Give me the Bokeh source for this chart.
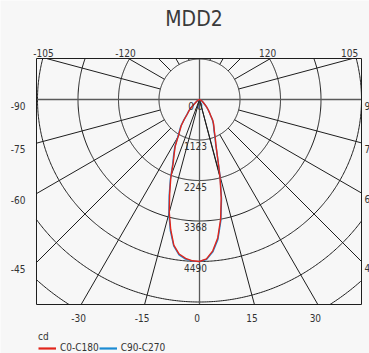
import math
from bokeh.plotting import figure
from bokeh.models import Label, Legend, LegendItem, Range1d
from bokeh.embed import file_html
from bokeh.resources import INLINE

# ---------------- data ----------------
title_text = "MDD2"
unit_label = "cd"
series_names = ["C0-C180", "C90-C270"]
gamma = [-90, -85, -80, -75, -70, -65, -60, -55, -50,
         -45, -42.5, -40, -37.5, -35, -32.5, -30, -27.5, -25, -22.5, -20, -17.5, -15, -12.5, -10,
         -7.5, -5, -2.5, 0, 2.5, 5, 7.5, 10, 12.5, 15, 17.5, 20, 22.5, 25, 27.5, 30, 32.5, 35,
         37.5, 40, 42.5, 45,
         50, 55, 60, 65, 70, 75, 80, 85, 90]
c0_c180 = [0, 4, 8, 15, 25, 40, 60, 100, 180,
           364, 440, 524, 690, 880, 1006, 1181, 1453, 1661, 1905, 2330, 2750, 3240, 3690, 4100,
           4320, 4420, 4475, 4490, 4420, 4210, 3870, 3370, 2780, 2180, 1650, 1330, 1140, 976,
           870, 780, 680, 540, 450, 380, 310, 250,
           150, 100, 60, 40, 25, 15, 8, 4, 0]
c90_c270 = [0, 4, 8, 15, 26, 42, 62, 105, 190,
            375, 455, 545, 710, 905, 1035, 1210, 1485, 1695, 1940, 2365, 2795, 3280, 3730, 4120,
            4345, 4440, 4485, 4490, 4440, 4240, 3910, 3410, 2820, 2210, 1650, 1310, 1110, 950,
            850, 760, 665, 530, 445, 375, 305, 245,
            150, 100, 60, 40, 25, 15, 8, 4, 0]
ring_values = [1122.5, 2245, 3367.5, 4490, 5612.5, 6735]
ring_label_values = [0, 1122.5, 2245, 3367.5, 4490]
ring_labels = ["0.0", "1123", "2245", "3368", "4490"]
spoke_angles = list(range(-165, 181, 15))
full_spokes = [-15, 15]
axis_spokes = [0, 90, 180, -90]
top_ticks = [-105, -120, 120, 105]
left_ticks = [-90, -75, -60, -45]
bottom_ticks = [-30, -15, 0, 15, 30]
right_ticks = [90, 75, 60, 45]

# ---------------- styling ----------------
FONT = "DejaVu Sans Condensed, Roboto"
RED = "#e1251b"
BLUE = "#1b8bd3"
GRID = "#1e1e1e"
AXIS = "#5a5a5a"
TXT = "#333333"
BG = "#f7f7f7"

W, H = 369, 353
CX, CY = 199, 99          # centre of the polar diagram (px)
c = 4490 / 162.0          # cd per pixel
X0, X1 = -163 * c, 162 * c   # chart box
Y0, Y1 = -205 * c, 41 * c

p = figure(width=W, height=H, min_border=0,
           x_range=Range1d(-CX * c, (W - CX) * c), y_range=Range1d(-(H - CY) * c, CY * c),
           x_axis_location=None, y_axis_location=None,
           toolbar_location=None, output_backend="svg")
p.grid.grid_line_color = None
p.outline_line_color = None
p.background_fill_color = BG
p.border_fill_color = BG
p.title.visible = False


def pol(r, a):
    t = math.radians(a)
    return r * math.sin(t), -r * math.cos(t)


def inside(pt):
    return X0 <= pt[0] <= X1 and Y0 <= pt[1] <= Y1


def exit_point(pin, pout):
    (x0, y0), (x1, y1) = pin, pout
    dx, dy = x1 - x0, y1 - y0
    t = 1.0
    if dx > 0:
        t = min(t, (X1 - x0) / dx)
    if dx < 0:
        t = min(t, (X0 - x0) / dx)
    if dy > 0:
        t = min(t, (Y1 - y0) / dy)
    if dy < 0:
        t = min(t, (Y0 - y0) / dy)
    return (x0 + t * dx, y0 + t * dy)


def clip_runs(pts):
    runs, cur = [], []
    for i, pt in enumerate(pts):
        if inside(pt):
            if not cur and i > 0:
                cur.append(exit_point(pt, pts[i - 1]))
            cur.append(pt)
        else:
            if cur:
                cur.append(exit_point(pts[i - 1], pt))
                runs.append(cur)
                cur = []
    if cur:
        runs.append(cur)
    return runs


# rings, clipped to the chart box
rxs, rys = [], []
for r in ring_values:
    pts = [pol(r, k * 0.5) for k in range(0, 721)]
    for run in clip_runs(pts):
        rxs.append([q[0] for q in run])
        rys.append([q[1] for q in run])
p.multi_line(rxs, rys, line_color=GRID, line_width=1)


def hit(a):
    sx, sy = math.sin(math.radians(a)), -math.cos(math.radians(a))
    ts = []
    if sx > 1e-9:
        ts.append(X1 / sx)
    if sx < -1e-9:
        ts.append(X0 / sx)
    if sy > 1e-9:
        ts.append(Y1 / sy)
    if sy < -1e-9:
        ts.append(Y0 / sy)
    t = min(ts)
    return t * sx, t * sy


# spokes
xs, ys = [], []
for a in spoke_angles:
    if a in axis_spokes:
        continue
    r0 = 0 if a in full_spokes else ring_values[0]
    x0, y0 = pol(r0, a)
    x1, y1 = hit(a)
    xs.append([x0, x1])
    ys.append([y0, y1])
p.multi_line(xs, ys, line_color=GRID, line_width=1)

# main axes through the centre
p.multi_line([[0, 0], [X0, X1]], [[Y0, Y1], [0, 0]], line_color=AXIS, line_width=1.3)

# beam half-angle lines (C0-C180)
half = max(c0_c180) / 2.0
imax = c0_c180.index(max(c0_c180))


def half_angle(indices):
    for i0, i1 in zip(indices[:-1], indices[1:]):
        v0, v1 = c0_c180[i0], c0_c180[i1]
        if v0 >= half >= v1:
            f = (v0 - half) / (v0 - v1)
            return gamma[i0] + f * (gamma[i1] - gamma[i0])
    return 0


a_left = half_angle(list(range(imax, -1, -1)))
a_right = half_angle(list(range(imax, len(gamma))))
bx, by = [], []
for a in (a_left, a_right):
    x1, y1 = pol(half, a)
    bx.append([0, x1])
    by.append([0, y1])
p.multi_line(bx, by, line_color=GRID, line_width=1)

# curves
xb = [pol(v, g)[0] for v, g in zip(c90_c270, gamma)]
yb = [pol(v, g)[1] for v, g in zip(c90_c270, gamma)]
xr = [pol(v, g)[0] for v, g in zip(c0_c180, gamma)]
yr = [pol(v, g)[1] for v, g in zip(c0_c180, gamma)]
p.line(xb, yb, line_color=BLUE, line_width=1.4)
p.line(xr, yr, line_color=RED, line_width=1.4)

# chart box
p.quad(left=[X0], right=[X1], bottom=[Y0], top=[Y1], fill_color=None,
       line_color=GRID, line_width=1)

# legend proxies (kept far outside the visible area)
BIG = 30000
lr = p.line(x=[-BIG, -BIG + 1], y=[-BIG, -BIG], line_color=RED, line_width=2.2)
lb = p.line(x=[-BIG, -BIG + 1], y=[-BIG, -BIG], line_color=BLUE, line_width=2.2)


def add_label(x, y, text, align="center", size="10px"):
    p.add_layout(Label(x=x, y=y, text=text, text_font=FONT, text_font_size=size,
                       text_color=TXT, text_align=align, text_baseline="middle"))


for a in top_ticks:
    hx, hy = hit(a)
    add_label(hx - 3 * c, Y1 + 6 * c, str(a))
for a in bottom_ticks:
    hx, hy = hit(a)
    add_label(hx - 2.5 * c, Y0 - 13 * c, str(a))
for a in left_ticks:
    hx, hy = hit(a)
    add_label(X0 - 11 * c, hy - 6 * c, str(a), align="right")
for a in right_ticks:
    hx, hy = hit(a)
    add_label(X1 + 3 * c, hy - 6 * c, str(a), align="left")

for v, t in zip(ring_label_values, ring_labels):
    add_label(-4 * c, -v - 6 * c, t)

# title
p.add_layout(Label(x=-5.5 * c, y=81 * c, text=title_text, text_font=FONT, text_font_size="21px",
                   text_color="#3a3a3a", text_align="center", text_baseline="middle"))

legend = Legend(items=[LegendItem(label=series_names[0], renderers=[lr]),
                       LegendItem(label=series_names[1], renderers=[lb])],
                orientation="horizontal", location=(38, 0), title=unit_label,
                title_text_font=FONT, title_text_font_size="10px", title_text_font_style="normal",
                title_text_color=TXT, title_standoff=0,
                label_text_font=FONT, label_text_font_size="10px", label_text_color=TXT,
                glyph_width=18, glyph_height=10, label_height=10, label_standoff=4, spacing=0,
                padding=0, margin=0, border_line_color=None, background_fill_alpha=0)
p.add_layout(legend)

open("out.html", "w").write(file_html(p, INLINE))
